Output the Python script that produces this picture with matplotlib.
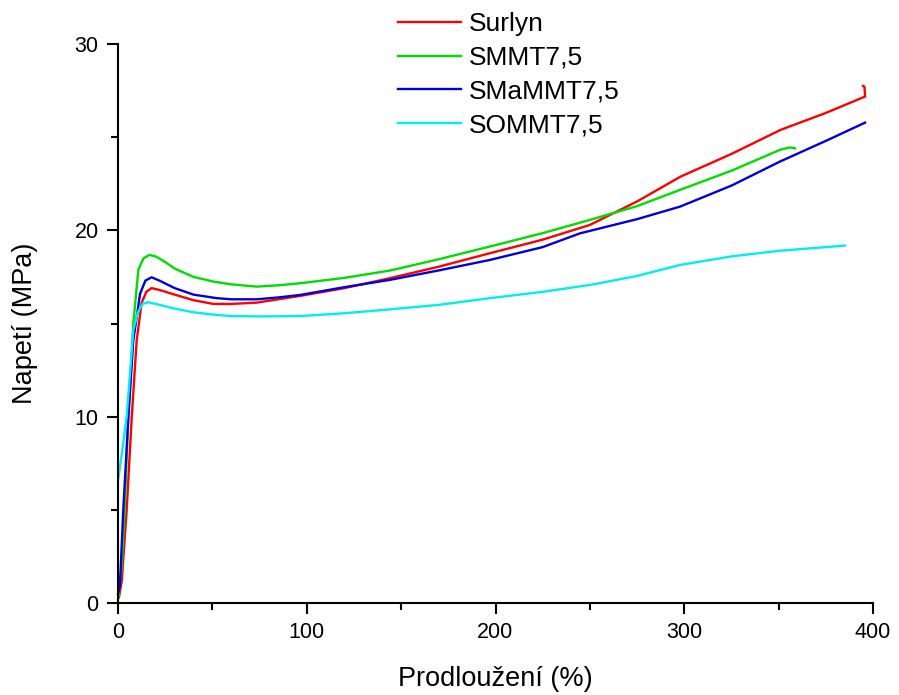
import matplotlib
matplotlib.use("Agg")
import matplotlib.pyplot as plt
from matplotlib.ticker import MultipleLocator

plt.rcParams['font.family'] = ['Liberation Sans', 'DejaVu Sans']

# Data
surlyn_x = [0.5, 2, 4.6, 7.3, 9.9, 12.5, 15, 17.8, 22, 30, 40, 50.5, 60, 73.5, 85, 96.4,
            120, 144, 170, 197, 225, 250, 275, 298, 325, 351, 375, 395.8, 395.5, 394.7]
surlyn_y = [0.3, 1.2, 5, 10, 14.1, 16.1, 16.7, 16.9, 16.8, 16.55, 16.25, 16.05, 16.05, 16.12, 16.3, 16.48,
            16.9, 17.43, 18.05, 18.77, 19.5, 20.29, 21.55, 22.88, 24.1, 25.39, 26.3, 27.18, 27.7, 27.75]

smmt_x = [0, 2, 3.5, 5.5, 8.1, 10.8, 13.5, 16.6, 20, 25, 30, 40, 50.5, 60, 73.5, 85, 96.4,
          120, 144, 170, 197, 225, 250, 275, 297.7, 325, 350.7, 356, 358.7]
smmt_y = [0.2, 2, 5, 10, 15, 17.9, 18.5, 18.68, 18.6, 18.3, 17.95, 17.5, 17.25, 17.1, 16.98, 17.05, 17.16,
          17.45, 17.84, 18.45, 19.13, 19.85, 20.56, 21.3, 22.17, 23.2, 24.32, 24.45, 24.4]

smammt_x = [0, 1, 2.8, 5.5, 8.1, 11.7, 14.5, 17.8, 22, 30, 40, 52.3, 60, 73.5, 85, 96.4,
            120, 144, 170, 197, 225, 244.8, 275, 297.7, 325, 350.7, 375, 395.8]
smammt_y = [0.5, 0.9, 5, 10, 14.1, 16.6, 17.3, 17.48, 17.3, 16.9, 16.55, 16.36, 16.3, 16.3, 16.4, 16.53,
            16.95, 17.34, 17.85, 18.41, 19.1, 19.84, 20.6, 21.27, 22.4, 23.69, 24.8, 25.78]

sommt_x = [0.2, 2, 4.6, 6.5, 8.1, 10.5, 13, 16, 20, 30, 40, 52.3, 60, 75, 96.4,
           120, 144, 170, 197, 225, 250.1, 275, 297.7, 325, 350, 375, 385.2]
sommt_y = [6.7, 8, 10, 12.5, 14.65, 15.6, 16.05, 16.14, 16.05, 15.8, 15.6, 15.46, 15.4, 15.38, 15.4,
           15.55, 15.76, 16.0, 16.36, 16.7, 17.07, 17.55, 18.14, 18.6, 18.9, 19.1, 19.18]

labels = ['Surlyn', 'SMMT7,5', 'SMaMMT7,5', 'SOMMT7,5']
colors = ['#ff0000', '#00dd00', '#0000dd', '#00eeee']

fig = plt.figure(figsize=(8.99, 6.95), dpi=100)
ax = fig.add_axes([118/899, 92/695, 755/899, 559/695])

series = [(surlyn_x, surlyn_y), (smmt_x, smmt_y), (smammt_x, smammt_y), (sommt_x, sommt_y)]
for (xs, ys), lab, col in zip(series, labels, colors):
    ax.plot(xs, ys, color=col, lw=1.7, label=lab, clip_on=False)

ax.set_xlim(0, 400)
ax.set_ylim(0, 30)
ax.xaxis.set_major_locator(MultipleLocator(100))
ax.xaxis.set_minor_locator(MultipleLocator(50))
ax.yaxis.set_major_locator(MultipleLocator(10))
ax.yaxis.set_minor_locator(MultipleLocator(5))
for s in ['top', 'right']:
    ax.spines[s].set_visible(False)
for s in ['left', 'bottom']:
    ax.spines[s].set_linewidth(1.5)
ax.tick_params(which='major', direction='out', length=8, width=1.5, labelsize=15.5, pad=6)
ax.tick_params(which='minor', direction='out', length=5, width=1.5)

ax.set_xlabel('Prodloužení (%)', fontsize=19.5, labelpad=16)
ax.set_ylabel('Napetí (MPa)', fontsize=19.5, labelpad=26)

leg = fig.legend(loc='upper left', bbox_to_anchor=(398/899, 1 - 12/695),
                 bbox_transform=fig.transFigure, frameon=False, fontsize=19,
                 borderpad=0, borderaxespad=0, handlelength=2.4, handletextpad=0.3,
                 labelspacing=0.37)

fig.savefig('out.png', dpi=100)
